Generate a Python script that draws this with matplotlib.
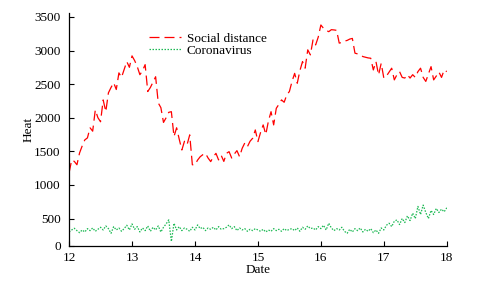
"""Heat of 'Social distance' vs 'Coronavirus' searches, hourly, 12-18."""

import matplotlib
matplotlib.use("Agg")
import matplotlib.pyplot as plt
import numpy as np


# hourly readings, day 12.0 -> 18.0
social_distance = [
    1180, 1370, 1350, 1300, 1476, 1580, 1670, 1700, 1850, 1800, 2116, 2000,
    1940, 2265, 2090, 2370, 2450, 2520, 2420, 2667, 2600, 2720, 2835, 2750,
    2920, 2850, 2760, 2640, 2700, 2790, 2390, 2450, 2530, 2610, 2220, 2150,
    1930, 2000, 2080, 2090, 1720, 1850, 1680, 1520, 1650, 1600, 1745, 1300,
    1300, 1370, 1420, 1450, 1470, 1400, 1347, 1420, 1470, 1372, 1440, 1350,
    1470, 1495, 1400, 1460, 1510, 1420, 1545, 1625, 1570, 1650, 1695, 1818,
    1645, 1780, 1893, 1750, 1950, 2090, 1893, 2140, 2200, 2265, 2230, 2340,
    2390, 2540, 2660, 2513, 2700, 2835, 2737, 3010, 2935, 3157, 3083, 3200,
    3380, 3330, 3300, 3280, 3310, 3306, 3300, 3110, 3120, 3140, 3150, 3170,
    3180, 2960, 2950, 2935, 2910, 2900, 2890, 2885, 2711, 2835, 2637, 2810,
    2590, 2620, 2680, 2737, 2563, 2640, 2686, 2600, 2590, 2640, 2590, 2640,
    2600, 2686, 2737, 2600, 2540, 2650, 2760, 2563, 2620, 2680, 2600, 2711,
    2686,
]
coronavirus = [
    300, 330, 355, 320, 290, 330, 300, 350, 320, 360, 310, 340,
    370, 330, 390, 350, 280, 380, 330, 360, 310, 350, 400, 330,
    420, 340, 380, 300, 360, 320, 390, 310, 370, 330, 390, 300,
    370, 420, 480, 160, 430, 330, 380, 320, 360, 340, 310, 370,
    330, 405, 350, 370, 320, 360, 340, 370, 330, 380, 340, 350,
    370, 405, 350, 380, 320, 360, 330, 350, 310, 340, 320, 350,
    330, 310, 340, 300, 330, 310, 350, 320, 340, 310, 350, 320,
    340, 350, 320, 360, 310, 370, 340, 390, 350, 360, 330, 380,
    350, 400, 330, 430, 360, 320, 350, 330, 370, 310, 280, 340,
    300, 350, 320, 360, 300, 340, 310, 350, 290, 330, 280, 360,
    330, 400, 430, 380, 460, 480, 410, 500, 440, 540, 470, 580,
    500, 680, 560, 700, 590, 500, 620, 560, 650, 590, 640, 600,
    660,
]
date = 12 + np.arange(len(social_distance)) / 24

y_ticks = [500, 1000, 1500, 2000, 2500, 3000, 3500]
x_ticks = [12, 13, 14, 15, 16, 17, 18]

plt.rcParams["font.family"] = ["Liberation Serif", "DejaVu Serif"]
plt.rcParams["font.size"] = 9.5

fig = plt.figure(figsize=(4.83, 2.86), dpi=100)
ax = fig.add_axes([0.143, 0.140, 0.782, 0.815])

ax.plot(date, social_distance, color="#ff0000", lw=0.9, dashes=(8, 4), label="Social distance")
ax.plot(date, coronavirus, color="#1db954", lw=0.9, dashes=(1.2, 1.2), label="Coronavirus")

ax.set_xlim(12, 18)
ax.set_ylim(92, 3560)
ax.set_xticks(x_ticks)
ax.set_yticks([92] + y_ticks)
ax.set_yticklabels(["0"] + [str(v) for v in y_ticks])
ax.tick_params(direction="in", length=3.5, width=0.8)
ax.tick_params(axis="x", pad=4)
ax.tick_params(axis="y", pad=6)

for side in ("top", "right"):
    ax.spines[side].set_visible(False)
for side in ("left", "bottom"):
    ax.spines[side].set_linewidth(0.9)

ax.set_xlabel("Date", labelpad=0)
ax.set_ylabel("Heat", labelpad=0)

ax.legend(loc="upper left", bbox_to_anchor=(0.187, 0.955), frameon=False,
          handlelength=2.4, handletextpad=0.45, labelspacing=0.0, borderpad=0.2)

fig.savefig("out.png", dpi=100)
